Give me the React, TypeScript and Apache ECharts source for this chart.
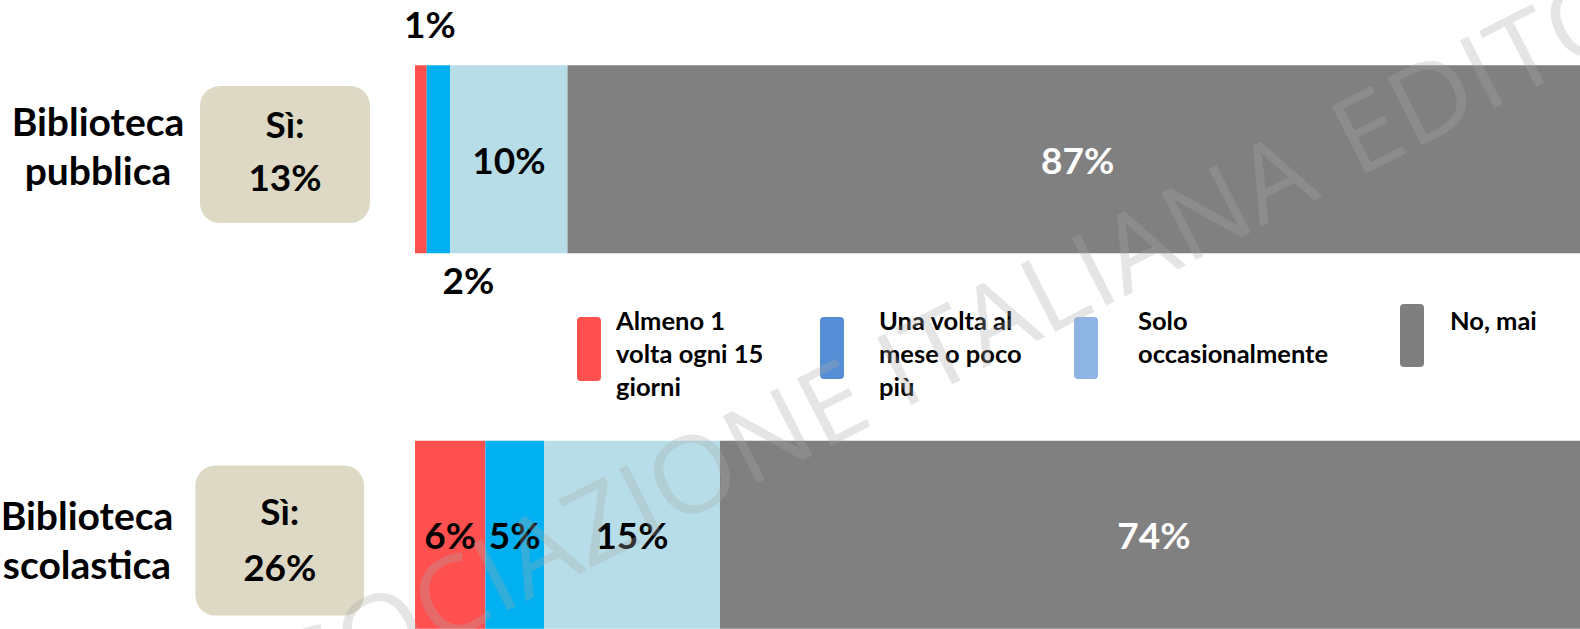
import React, { useEffect, useRef } from "react";
import * as echarts from "echarts";

// ---- data ----
const categories = ["Biblioteca\npubblica", "Biblioteca\nscolastica"];
const siShares = [13, 26];
const seriesNames = [
  "Almeno 1 volta ogni 15 giorni",
  "Una volta al mese o poco più",
  "Solo occasionalmente",
  "No, mai",
];
const legendTexts = [
  "Almeno 1\nvolta ogni 15\ngiorni",
  "Una volta al\nmese o poco\npiù",
  "Solo\noccasionalmente",
  "No, mai",
];
const almeno15Giorni = [1, 6];
const unaVoltaMese = [2, 5];
const occasionalmente = [10, 15];
const noMai = [87, 74];
const watermarkA = "ASSOCIAZIONE ITALIANA";
const watermarkB = "EDITORI";

// ---- styles / layout ----
const barColors = ["#FF5050", "#00B0F0", "#B7DEE8", "#808080"];
const legendColors = ["#FF5050", "#558ED5", "#8EB4E3", "#7F7F7F"];
const labelColors = ["#000000", "#000000", "#000000", "#FFFFFF"];
const FONT = "Lato, 'Open Sans', sans-serif";
const catLayout = [
  { x: 98, y: 145.5 },
  { x: 87, y: 539.5 },
];
const boxLayout = [
  { x: 200, y: 86, w: 170, h: 137, lh: 53, dy: -5 },
  { x: 195.5, y: 465.5, w: 168.5, h: 150, lh: 56, dy: -2 },
];
const legendLayout = [
  { ix: 577, iy: 317, ih: 64, tx: 616 },
  { ix: 820, iy: 317, ih: 62, tx: 879 },
  { ix: 1074, iy: 317, ih: 62, tx: 1138 },
  { ix: 1400, iy: 304, ih: 63, tx: 1450 },
];
// outside labels for the thin segments of the first row
const outsideLabels: Record<string, any> = {
  "0-0": { position: "top", distance: 22, offset: [9, 0] },
  "1-0": { position: "bottom", distance: 6, offset: [30, 0] },
};

export default function App() {
  const ref = useRef<HTMLDivElement>(null);
  useEffect(() => {
    document.body.style.margin = "0";
    if (!ref.current) return;
    const chart = echarts.init(ref.current, undefined, { renderer: "svg" });
    const allSeries = [almeno15Giorni, unaVoltaMese, occasionalmente, noMai];

    const series = allSeries.map((vals, si) => ({
      name: seriesNames[si],
      type: "bar",
      stack: "total",
      barWidth: 188,
      itemStyle: { color: barColors[si] },
      label: {
        show: true,
        position: "inside",
        formatter: "{c}%",
        fontFamily: FONT,
        fontWeight: "bold",
        fontSize: 37,
        lineHeight: 40,
        color: labelColors[si],
      },
      data: vals.map((v, ri) => {
        const o = outsideLabels[`${si}-${ri}`];
        return o ? { value: v, label: o } : v;
      }),
    }));

    const catLabels = categories.map((c, i) => ({
      type: "text",
      x: catLayout[i].x,
      y: catLayout[i].y,
      style: {
        text: c,
        fontFamily: FONT,
        fontWeight: "bold",
        fontSize: 39,
        lineHeight: 49,
        fill: "#000",
        align: "center",
        verticalAlign: "middle",
      },
    }));

    const boxes = siShares.map((s, i) => {
      const b = boxLayout[i];
      return {
        type: "group",
        children: [
          {
            type: "rect",
            shape: { x: b.x, y: b.y, width: b.w, height: b.h, r: 20 },
            style: { fill: "#DDD9C4" },
          },
          {
            type: "text",
            x: b.x + b.w / 2,
            y: b.y + b.h / 2 + b.dy,
            style: {
              text: `Sì:\n${s}%`,
              fontFamily: FONT,
              fontWeight: "bold",
              fontSize: 37,
              lineHeight: b.lh,
              fill: "#000",
              align: "center",
              verticalAlign: "middle",
            },
          },
        ],
      };
    });

    const legend = legendTexts.map((t, i) => {
      const l = legendLayout[i];
      return {
        type: "group",
        children: [
          {
            type: "rect",
            shape: { x: l.ix, y: l.iy, width: 24, height: l.ih, r: 4 },
            style: { fill: legendColors[i] },
          },
          {
            type: "text",
            x: l.tx,
            y: 303,
            style: {
              text: t,
              fontFamily: FONT,
              fontWeight: "bold",
              fontSize: 25.5,
              lineHeight: 33,
              fill: "#000",
              align: "left",
              verticalAlign: "top",
            },
          },
        ],
      };
    });

    const wmStyle = {
      fontFamily: "'Open Sans', sans-serif",
      fontWeight: "normal",
      fontSize: 106,
      fill: "rgba(169,169,169,0.3)",
      verticalAlign: "middle",
    };
    const watermark = {
      type: "group",
      x: 1362,
      y: 172,
      rotation: (27 * Math.PI) / 180,
      z: 100,
      silent: true,
      children: [
        { type: "text", x: -46, y: -38, scaleX: 1.04, z: 100, style: { ...wmStyle, text: watermarkA, align: "right" } },
        { type: "text", x: -8, y: -38, scaleX: 1.06, z: 100, style: { ...wmStyle, text: watermarkB, align: "left" } },
      ],
    };

    chart.setOption({
      animation: false,
      backgroundColor: "#FFFFFF",
      grid: {
        left: 415,
        right: -8,
        top: -28.4,
        bottom: -93.4,
        containLabel: false,
        outerBoundsMode: "none",
      },
      xAxis: { type: "value", min: 0, max: 100, show: false },
      yAxis: {
        type: "category",
        inverse: true,
        data: categories,
        axisLine: { show: false },
        axisTick: { show: false },
        splitLine: { show: false },
        axisLabel: { show: false },
      },
      series,
      graphic: [...catLabels, ...boxes, ...legend, watermark],
    });
    return () => chart.dispose();
  }, []);
  return (
    <div
      ref={ref}
      style={{ position: "fixed", left: 0, top: 0, width: 1580, height: 629 }}
    />
  );
}
